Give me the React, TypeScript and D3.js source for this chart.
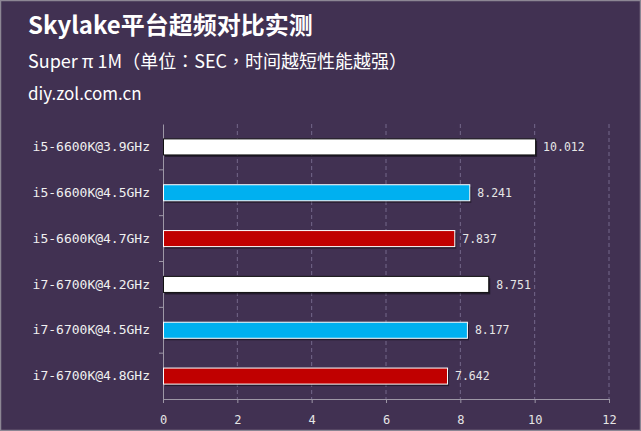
import { useRef, useEffect } from 'react';
import * as d3 from 'd3';

const categories = [
  'i5-6600K@3.9GHz',
  'i5-6600K@4.5GHz',
  'i5-6600K@4.7GHz',
  'i7-6700K@4.2GHz',
  'i7-6700K@4.5GHz',
  'i7-6700K@4.8GHz',
];
const values = [10.012, 8.241, 7.837, 8.751, 8.177, 7.642];
const barColors = ['#ffffff', '#00b0f0', '#c00000', '#ffffff', '#00b0f0', '#c00000'];
const xTicks = [0, 2, 4, 6, 8, 10, 12];

const title = 'Skylake平台超频对比实测';
const subtitle = 'Super π 1M（单位：SEC，时间越短性能越强）';
const source = 'diy.zol.com.cn';

const W = 641;
const H = 431;
const BG = '#413152';
const MONO = '"DejaVu Sans Mono", monospace';
const SANS = '"Noto Sans CJK SC", "Noto Sans", sans-serif';
const SANS_TC = '"Noto Sans CJK TC", "Noto Sans CJK SC", sans-serif';

export default function App() {
  const svgRef = useRef<SVGSVGElement>(null);

  useEffect(() => {
    if (!svgRef.current) return;
    const svg = d3.select(svgRef.current);
    svg.selectAll('*').remove();

    const margin = { top: 124, right: 32, bottom: 32, left: 163 };
    const w = W - margin.left - margin.right;
    const h = H - margin.top - margin.bottom;

    svg.append('rect').attr('width', W).attr('height', H).attr('fill', BG);
    svg.append('rect')
      .attr('x', 0.5).attr('y', 0.5).attr('width', W - 1).attr('height', H - 1)
      .attr('fill', 'none').attr('stroke', '#8c8694').attr('stroke-width', 1.5);

    // titles
    svg.append('text').attr('x', 28).attr('y', 34).text(title)
      .attr('fill', '#fff').style('font-family', SANS).style('font-weight', 700).style('font-size', '24px');
    svg.append('text').attr('x', 28).attr('y', 68).text(subtitle)
      .attr('fill', '#fff').style('font-family', SANS_TC).style('font-size', '18px');
    svg.append('text').attr('x', 28).attr('y', 100).text(source)
      .attr('fill', '#fff').style('font-family', SANS).style('font-size', '17px');

    const g = svg.append('g').attr('transform', `translate(${margin.left},${margin.top})`);

    const x = d3.scaleLinear().domain([0, 12]).range([0, w]);
    const y = d3.scaleBand<string>().domain(categories).range([0, h]).paddingInner(0.65).paddingOuter(0.325);

    // grid
    g.selectAll('line.grid')
      .data(xTicks.slice(1))
      .join('line')
      .attr('class', 'grid')
      .attr('x1', (d) => x(d)).attr('x2', (d) => x(d))
      .attr('y1', 0).attr('y2', h)
      .attr('stroke', '#74688a').attr('stroke-dasharray', '4,3');

    // bottom axis
    g.append('g')
      .attr('transform', `translate(0,${h})`)
      .call(d3.axisBottom(x).tickValues(xTicks).tickSize(4).tickPadding(12).tickFormat((d) => `${d}`))
      .call((a) => a.selectAll('text').attr('fill', '#e6e6e6').style('font-family', MONO).style('font-size', '12px'))
      .call((a) => a.selectAll('line, path').attr('stroke', '#9d97a6'));

    // left axis
    g.append('g')
      .call(d3.axisLeft(y).tickSize(0).tickPadding(13))
      .call((a) => a.selectAll('text').attr('fill', '#f0f0f0').style('font-family', MONO).style('font-size', '13px'))
      .call((a) => a.selectAll('line, path').attr('stroke', '#9d97a6'));

    // category boundary ticks
    const step = y.step();
    g.selectAll('line.ctick')
      .data(d3.range(1, categories.length))
      .join('line')
      .attr('class', 'ctick')
      .attr('x1', -4).attr('x2', 0)
      .attr('y1', (i) => i * step).attr('y2', (i) => i * step)
      .attr('stroke', '#9d97a6');

    const rows = categories.map((c, i) => ({ c, v: values[i], color: barColors[i] }));

    // shadows
    g.selectAll('rect.shadow')
      .data(rows)
      .join('rect')
      .attr('class', 'shadow')
      .attr('x', 2).attr('y', (d) => (y(d.c) ?? 0) + 2)
      .attr('width', (d) => x(d.v)).attr('height', y.bandwidth())
      .attr('fill', '#000').attr('opacity', 0.45);

    // bars
    g.selectAll('rect.bar')
      .data(rows)
      .join('rect')
      .attr('class', 'bar')
      .attr('x', 0.5).attr('y', (d) => y(d.c) ?? 0)
      .attr('width', (d) => x(d.v)).attr('height', y.bandwidth())
      .attr('fill', (d) => d.color)
      .attr('stroke', (d) => (d.color === '#ffffff' ? '#111' : '#fff'))
      .attr('stroke-width', 1);

    // value labels
    g.selectAll('text.val')
      .data(rows)
      .join('text')
      .attr('class', 'val')
      .attr('x', (d) => x(d.v) + 8)
      .attr('y', (d) => (y(d.c) ?? 0) + y.bandwidth() / 2)
      .attr('dy', '0.36em')
      .text((d) => d.v.toFixed(3))
      .attr('fill', '#e6e6e6').style('font-family', MONO).style('font-size', '11.5px');
  }, []);

  return (
    <div style={{ position: 'fixed', left: 0, top: 0 }}>
      <svg ref={svgRef} width={W} height={H} style={{ display: 'block' }} />
    </div>
  );
}
